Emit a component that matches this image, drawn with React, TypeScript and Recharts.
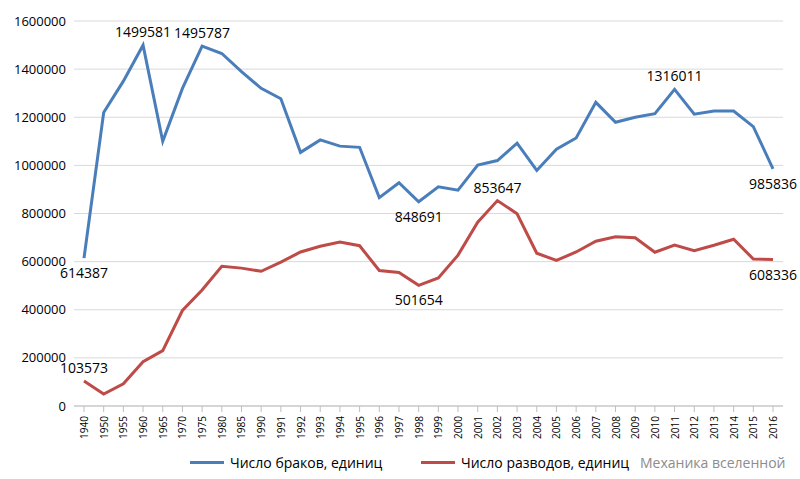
import { LineChart, Line, XAxis, YAxis, CartesianGrid, LabelList } from "recharts";

const years = [
  "1940", "1950", "1955", "1960", "1965", "1970", "1975", "1980", "1985", "1990",
  "1991", "1992", "1993", "1994", "1995", "1996", "1997", "1998", "1999", "2000",
  "2001", "2002", "2003", "2004", "2005", "2006", "2007", "2008", "2009", "2010",
  "2011", "2012", "2013", "2014", "2015", "2016",
];

const marriages = [
  614387, 1220000, 1350000, 1499581, 1100000, 1320000, 1495787, 1465000, 1390000, 1320000,
  1277000, 1054000, 1106000, 1080000, 1075000, 866000, 928000, 848691, 911000, 897000,
  1001000, 1020000, 1092000, 979000, 1067000, 1114000, 1262000, 1179000, 1200000, 1215000,
  1316011, 1213000, 1226000, 1226000, 1161000, 985836,
];

const divorces = [
  103573, 50000, 92000, 184000, 230000, 397000, 482000, 581000, 573000, 560000,
  598000, 640000, 664000, 681000, 666000, 563000, 555000, 501654, 532000, 627000,
  764000, 853647, 799000, 635000, 605000, 640000, 685000, 703000, 699000, 639000,
  669000, 645000, 668000, 693000, 611000, 608336,
];

const yTicks = [0, 200000, 400000, 600000, 800000, 1000000, 1200000, 1400000, 1600000];

// which points get a value label, and whether it sits above or below
const marriageLabels: Record<number, "up" | "down"> = { 0: "down", 3: "up", 6: "up", 17: "down", 30: "up", 35: "down" };
const divorceLabels: Record<number, "up" | "down"> = { 0: "up", 17: "down", 21: "up", 35: "down" };

const data = years.map((y, i) => ({ year: y, marriages: marriages[i], divorces: divorces[i] }));

const makeLabel = (which: Record<number, "up" | "down">) => (props: any) => {
  const { x, y, value, index } = props;
  const pos = which[index];
  if (!pos) return null;
  return (
    <text x={x} y={pos === "up" ? y - 8 : y + 20} textAnchor="middle" fontSize={14} fill="#000">
      {value}
    </text>
  );
};

const XTick = (props: any) => {
  const { x, y, payload } = props;
  return (
    <text x={x + 4} y={y + 2} transform={`rotate(-90 ${x + 4} ${y + 2})`} textAnchor="end" fontSize={10} fill="#000">
      {payload.value}
    </text>
  );
};

export default function App() {
  return (
    <div style={{ position: "absolute", left: 0, top: 0, width: 800, height: 479, background: "#fff", fontFamily: "'Open Sans', sans-serif" }}>
      <LineChart width={800} height={440} data={data} margin={{ top: 21, right: 17, left: 0, bottom: 0 }}>
        <CartesianGrid vertical={false} stroke="#d9d9d9" />
        <XAxis dataKey="year" interval={0} tick={<XTick />} height={34} padding={{ left: 10, right: 10 }} stroke="#bfbfbf" tickLine={{ stroke: "#bfbfbf" }} />
        <YAxis ticks={yTicks} domain={[0, 1600000]} width={74} axisLine={false} tickLine={false} tick={{ fontSize: 13, fill: "#000" }} />
        <Line dataKey="marriages" stroke="#4a7ebb" strokeWidth={3} dot={false} isAnimationActive={false}>
          <LabelList dataKey="marriages" content={makeLabel(marriageLabels)} />
        </Line>
        <Line dataKey="divorces" stroke="#be4b48" strokeWidth={3} dot={false} isAnimationActive={false}>
          <LabelList dataKey="divorces" content={makeLabel(divorceLabels)} />
        </Line>
      </LineChart>
      <div style={{ position: "absolute", top: 453, left: 0, width: 800, fontSize: 14, color: "#000" }}>
        <span style={{ position: "absolute", left: 190, display: "flex", alignItems: "center" }}>
          <span style={{ display: "inline-block", width: 34, height: 3, background: "#4a7ebb", marginRight: 6 }} />
          Число браков, единиц
        </span>
        <span style={{ position: "absolute", left: 421, display: "flex", alignItems: "center" }}>
          <span style={{ display: "inline-block", width: 34, height: 3, background: "#be4b48", marginRight: 6 }} />
          Число разводов, единиц
        </span>
        <span style={{ position: "absolute", left: 640, color: "#8c8c8c" }}>Механика вселенной</span>
      </div>
    </div>
  );
}
